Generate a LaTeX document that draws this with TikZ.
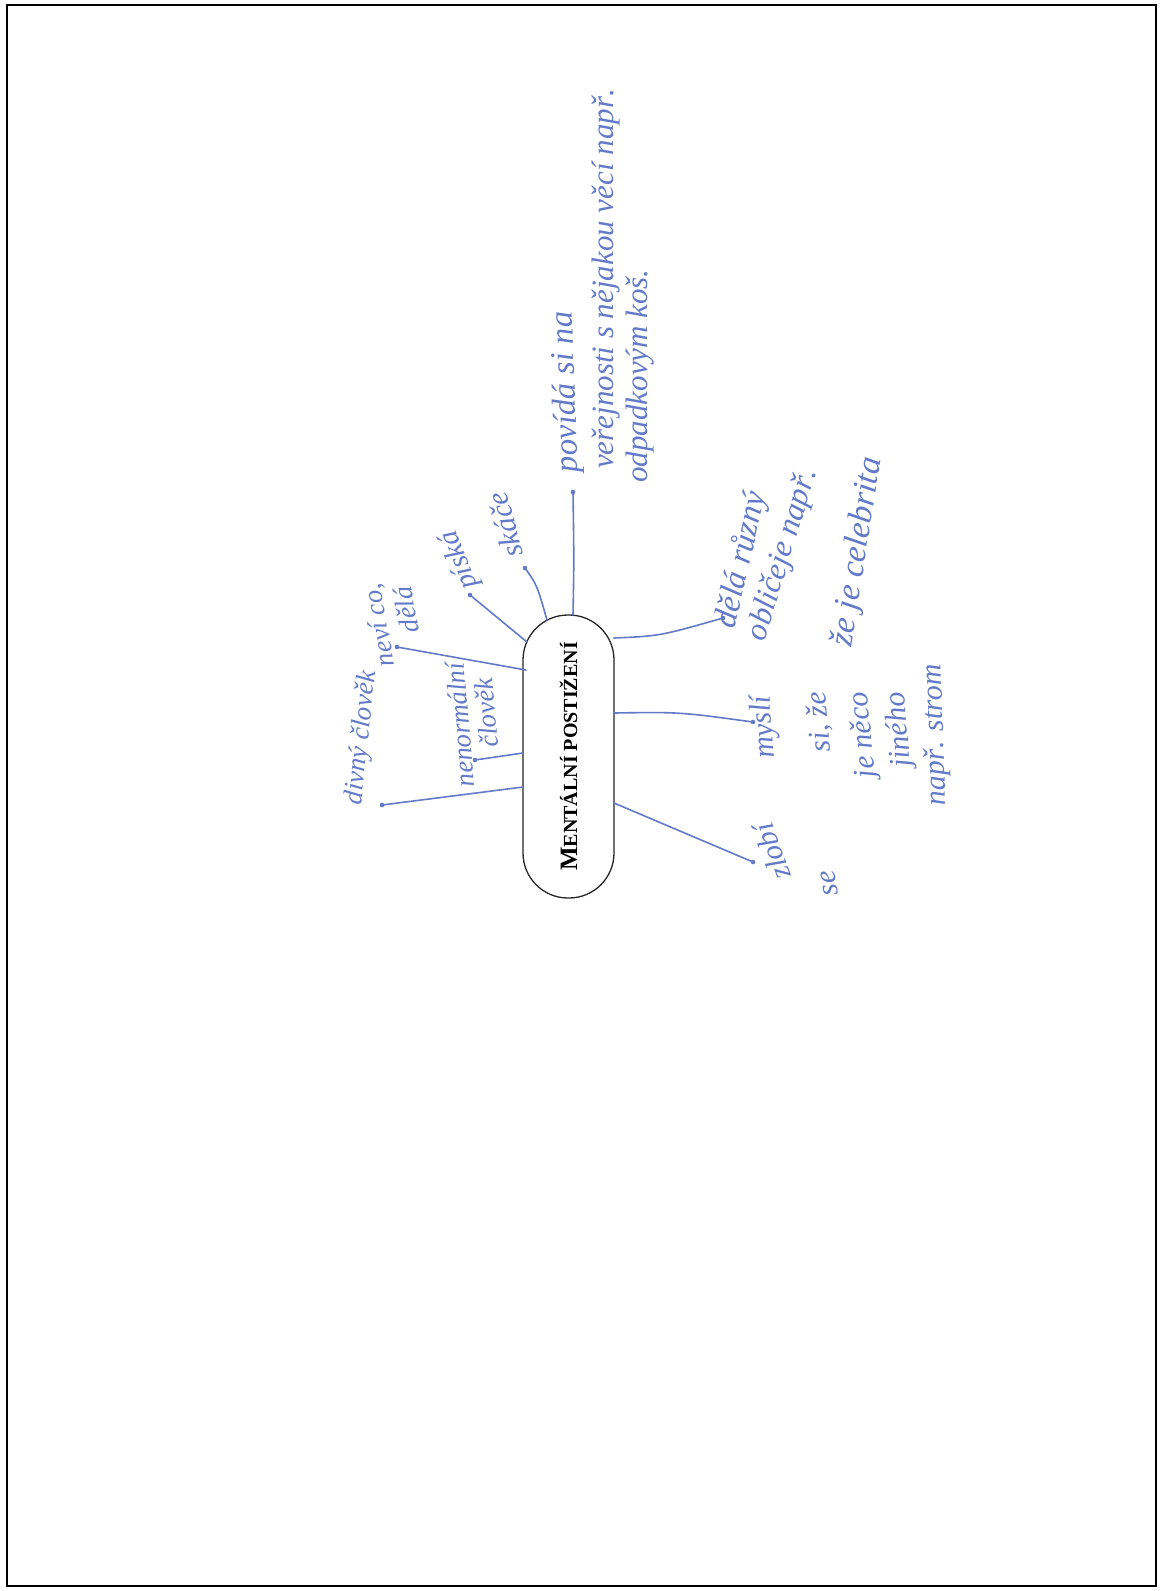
\documentclass[tikz,border=0pt]{standalone}
\usepackage{fontspec}
\setmainfont{Liberation Serif}
\definecolor{ink}{RGB}{98,122,200}
\begin{document}
\begin{tikzpicture}[x=1pt,y=-1pt,
  hw/.style={text=ink, font=\itshape\fontsize{#1}{#1}\selectfont, inner sep=0pt, align=left},
  hw/.default=30,
  conn/.style={draw=ink, line width=1.6pt, line cap=round},
  pill/.style={draw=black!85, line width=1.3pt, rounded corners=45pt, minimum width=283pt, minimum height=91pt, inner sep=0pt, fill=white}]
\useasboundingbox (0,0) rectangle (1161,1591);
\draw[line width=2pt] (7,5) rectangle (1156,1586);

% central node
\node[pill, rotate=90] (mp) at (568.5,756.5)
  {\bfseries{\fontsize{25}{25}\selectfont M}{\fontsize{20}{20}\selectfont ENTÁLNÍ POSTIŽENÍ}};

% labels
\node[hw=27, rotate=84] (l1) at (362,738) {divný člověk};
\node[hw=27, rotate=95] (l2a) at (460,725) {nenormální};
\node[hw=27, rotate=95] (l2b) at (486,713) {člověk};
\node[hw=27, rotate=100] (l3a) at (380,625) {neví co,};
\node[hw=27, rotate=100] (l3b) at (406,610) {dělá};
\node[hw=29, rotate=112] (l4) at (460,560) {píská};
\node[hw=30, rotate=105] (l5) at (505,525) {skáče};
\node[hw=33, rotate=92] (l6a) at (567,392) {povídá si na};
\node[hw=31, rotate=90] (l6b) at (606,279) {veřejnosti s nějakou věcí např.};
\node[hw=31, rotate=90] (l6c) at (640,376) {odpadkovým koš.};
\node[hw=33, rotate=77] (l7a) at (742,560) {dělá různý};
\node[hw=32, rotate=73] (l7b) at (783,555) {obličeje např.};
\node[hw=34, rotate=81] (l7c) at (858,552) {že je celebrita};
\node[hw=30, rotate=95] (l8a) at (765,727) {myslí};
\node[hw=30, rotate=95] (l8b) at (820,722) {si, že};
\node[hw=30, rotate=95] (l8c) at (864,735) {je něco};
\node[hw=30, rotate=95] (l8d) at (900,730) {jiného};
\node[hw=30, rotate=92] (l8e) at (936,735) {např. strom};
\node[hw=30, rotate=110] (l9a) at (772,852) {zlobí};
\node[hw=30, rotate=100] (l9b) at (830,883) {se};

% connector ends
\coordinate (d1) at (382,805); \coordinate (p1) at (523,787);
\coordinate (d2) at (475,760); \coordinate (p2) at (523,753);
\coordinate (d3) at (397,647); \coordinate (p3) at (526,670);
\coordinate (d4) at (470,595); \coordinate (p4) at (527,642);
\coordinate (d5) at (525,568); \coordinate (p5) at (547,620);
\coordinate (d6) at (573,492); \coordinate (p6) at (573,615);
\coordinate (d7) at (723,618); \coordinate (p7) at (614,638);
\coordinate (d8) at (753,722); \coordinate (p8) at (614,713);
\coordinate (d9) at (753,862); \coordinate (p9) at (614,803);

\draw[conn] (d1) -- (p1);
\draw[conn] (d2) -- (p2);
\draw[conn] (d3) -- (p3);
\draw[conn] (d4) -- (p4);
\draw[conn] (d5) .. controls (537,585) .. (p5);
\draw[conn] (d6) .. controls (574,560) .. (p6);
\draw[conn] (p7) .. controls (660,636) .. (d7);
\draw[conn] (p8) .. controls (680,712) .. (d8);
\draw[conn] (p9) -- (d9);
\foreach \d in {d1,d2,d3,d4,d5,d6,d7,d8,d9} \fill[ink] (\d) circle (2.3);
\end{tikzpicture}
\end{document}
